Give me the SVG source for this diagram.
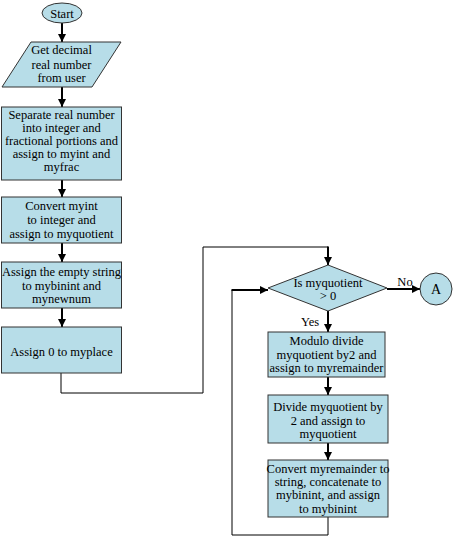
<svg xmlns="http://www.w3.org/2000/svg" width="453" height="537" viewBox="0 0 453 537">
<style>
.sh{fill:#b7dde8;stroke:#333;stroke-width:1}
.t{font-family:'Liberation Serif','DejaVu Serif',serif;font-size:12.5px;fill:#000;text-anchor:middle}
.ln{fill:none;stroke:#000;stroke-width:1}
.ar{fill:none;stroke:#000;stroke-width:2;marker-end:url(#ah)}
</style>
<defs>
<marker id="ah" viewBox="0 0 10 10" refX="10" refY="5" markerWidth="4.5" markerHeight="4" orient="auto" markerUnits="strokeWidth">
<path d="M0,0 L10,5 L0,10 z" fill="#000"/>
</marker>
</defs>
<rect width="453" height="537" fill="#fff"/>
<g id="connectors">
<line class="ar" x1="62" y1="23" x2="62" y2="42"/>
<line class="ar" x1="62" y1="87" x2="62" y2="107"/>
<line class="ar" x1="62" y1="180" x2="62" y2="197"/>
<line class="ar" x1="62" y1="243" x2="62" y2="262"/>
<line class="ar" x1="62" y1="308" x2="62" y2="327"/>
<polyline class="ln" points="61,373 61,393 203,393 203,247 328,247"/>
<line class="ar" x1="328" y1="246.5" x2="328" y2="265"/>
<line class="ar" x1="387" y1="289" x2="420" y2="289"/>
<line class="ar" x1="328" y1="311" x2="328" y2="332"/>
<line class="ar" x1="328" y1="377" x2="328" y2="395"/>
<line class="ar" x1="328" y1="443" x2="328" y2="460"/>
<polyline class="ln" points="328,517 328,535 232,535 232,290"/>
<line class="ar" x1="231.5" y1="290" x2="268" y2="290"/>
<text class="t" font-family="Liberation Serif, serif" x="405" y="286">No</text>
<text class="t" font-family="Liberation Serif, serif" x="310" y="326">Yes</text>
</g>
<g id="start">
<ellipse class="sh" cx="62" cy="13" rx="20" ry="10"/>
<text class="t" font-family="Liberation Serif, serif" x="62" y="17.5">Start</text>
</g>
<g id="input">
<polygon class="sh" points="31,42 121,42 92,87 2,87"/>
<text class="t" font-family="Liberation Serif, serif" x="61.5" y="54">Get decimal</text>
<text class="t" font-family="Liberation Serif, serif" x="61.5" y="68.5">real number</text>
<text class="t" font-family="Liberation Serif, serif" x="61.5" y="82">from user</text>
</g>
<g id="separate">
<rect class="sh" x="1.5" y="107" width="120" height="73"/>
<text class="t" font-family="Liberation Serif, serif" x="61.5" y="119">Separate real number</text>
<text class="t" font-family="Liberation Serif, serif" x="61.5" y="132">into integer and</text>
<text class="t" font-family="Liberation Serif, serif" x="61.5" y="145">fractional portions and</text>
<text class="t" font-family="Liberation Serif, serif" x="61.5" y="158">assign to myint and</text>
<text class="t" font-family="Liberation Serif, serif" x="61.5" y="171">myfrac</text>
</g>
<g id="convert">
<rect class="sh" x="1.5" y="197" width="120" height="46"/>
<text class="t" font-family="Liberation Serif, serif" x="61.5" y="210">Convert myint</text>
<text class="t" font-family="Liberation Serif, serif" x="61.5" y="224">to integer and</text>
<text class="t" font-family="Liberation Serif, serif" x="61.5" y="238">assign to myquotient</text>
</g>
<g id="empty">
<rect class="sh" x="1.5" y="262" width="120" height="46"/>
<text class="t" font-family="Liberation Serif, serif" x="61.5" y="276">Assign the empty string</text>
<text class="t" font-family="Liberation Serif, serif" x="61.5" y="290">to mybinint and</text>
<text class="t" font-family="Liberation Serif, serif" x="61.5" y="303">mynewnum</text>
</g>
<g id="place">
<rect class="sh" x="1.5" y="327" width="120" height="46"/>
<text class="t" font-family="Liberation Serif, serif" x="61.5" y="356">Assign 0 to myplace</text>
</g>
<g id="decision">
<polygon class="sh" points="328,265 387,288 328,311 268,288"/>
<text class="t" font-family="Liberation Serif, serif" x="328" y="287">Is myquotient</text>
<text class="t" font-family="Liberation Serif, serif" x="328" y="300">&gt; 0</text>
</g>
<g id="connA">
<circle class="sh" cx="436" cy="289" r="16"/>
<text class="t" font-family="Liberation Serif, serif" x="436" y="294" style="font-size:14px">A</text>
</g>
<g id="modulo">
<rect class="sh" x="268" y="332" width="117" height="45"/>
<text class="t" font-family="Liberation Serif, serif" x="326.5" y="345">Modulo divide</text>
<text class="t" font-family="Liberation Serif, serif" x="326.5" y="359">myquotient by2 and</text>
<text class="t" font-family="Liberation Serif, serif" x="326.5" y="372">assign to myremainder</text>
</g>
<g id="divide">
<rect class="sh" x="268" y="395" width="120" height="48"/>
<text class="t" font-family="Liberation Serif, serif" x="328" y="411">Divide myquotient by</text>
<text class="t" font-family="Liberation Serif, serif" x="328" y="425">2 and assign to</text>
<text class="t" font-family="Liberation Serif, serif" x="328" y="438">myquotient</text>
</g>
<g id="concat">
<rect class="sh" x="268" y="460" width="120" height="57"/>
<text class="t" font-family="Liberation Serif, serif" x="328" y="473">Convert myremainder to</text>
<text class="t" font-family="Liberation Serif, serif" x="328" y="486">string, concatenate to</text>
<text class="t" font-family="Liberation Serif, serif" x="328" y="499">mybinint, and assign</text>
<text class="t" font-family="Liberation Serif, serif" x="328" y="513">to mybinint</text>
</g>
</svg>
